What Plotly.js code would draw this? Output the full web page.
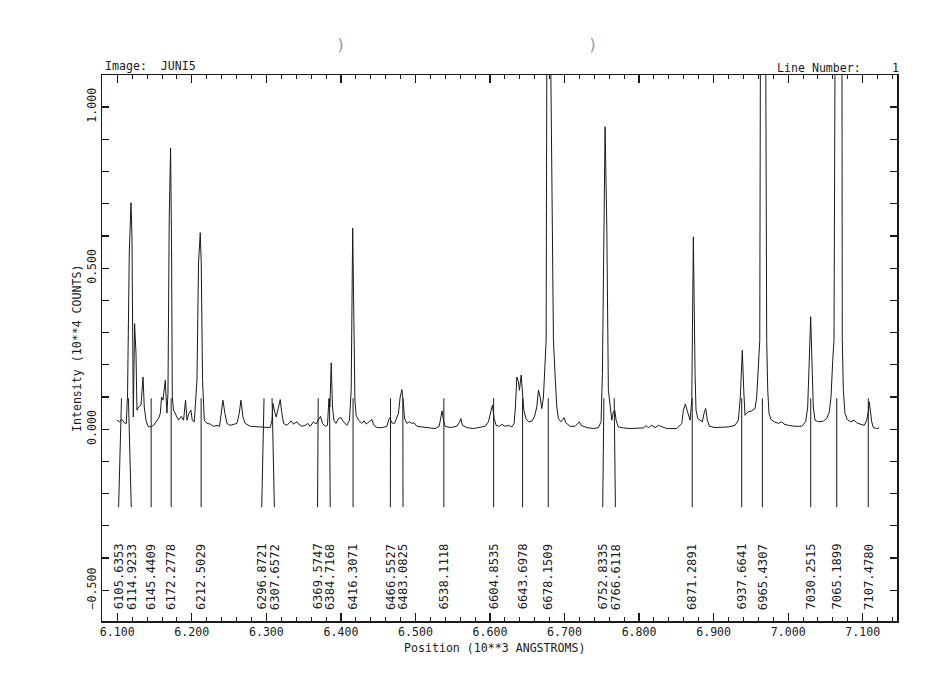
<!DOCTYPE html>
<html>
<head>
<meta charset="utf-8">
<script src="https://cdn.plot.ly/plotly-3.0.1.min.js"></script>
<style>html,body{margin:0;padding:0;background:#fff;}#chart{width:932px;height:693px;}</style>
</head>
<body>
<div id="chart"></div>
<script>
// Spectrum: wavelength (Angstrom) and intensity (10**4 counts)
const wavelength = [6099.6,6103.1,6106.3,6109.4,6112.1,6113.8,6116.1,6118.4,6119.7,6120.5,6121.5,6123.2,6125.1,6126.4,6128.6,6131.8,6134.5,6136.2,6138.5,6141.2,6144.3,6148.7,6153.2,6155.9,6157.7,6159.4,6161.3,6164.4,6166.6,6168.0,6169.7,6171.5,6172.8,6173.8,6175.5,6179.1,6182.2,6185.8,6188.9,6191.6,6193.5,6196.1,6198.8,6200.6,6203.3,6206.9,6209.0,6211.3,6212.6,6214.4,6216.7,6220.3,6224.7,6229.1,6233.7,6237.2,6239.5,6241.7,6244.4,6247.1,6251.5,6256.0,6260.5,6263.6,6265.9,6268.6,6271.6,6278.4,6287.3,6296.2,6305.2,6307.5,6308.8,6311.2,6313.2,6315.9,6318.6,6320.6,6323.0,6327.6,6333.3,6336.4,6341.0,6343.1,6347.7,6352.1,6355.7,6358.8,6363.2,6366.5,6369.9,6372.6,6375.3,6378.9,6382.0,6383.9,6385.2,6387.0,6388.7,6390.6,6393.3,6396.8,6400.0,6403.5,6408.0,6411.5,6413.8,6415.8,6418.8,6420.5,6423.6,6428.1,6431.2,6433.9,6437.9,6441.6,6444.2,6448.3,6455.0,6461.7,6464.3,6466.1,6467.8,6471.9,6477.2,6479.5,6481.8,6483.5,6485.3,6488.5,6491.6,6495.2,6498.3,6501.9,6508.6,6517.5,6526.4,6531.8,6534.1,6535.8,6537.6,6539.8,6546.6,6555.5,6558.6,6560.9,6563.0,6568.9,6577.8,6586.8,6593.5,6597.9,6601.1,6603.3,6605.6,6608.2,6612.7,6615.9,6620.3,6624.7,6629.3,6632.4,6634.1,6636.0,6638.1,6639.5,6641.8,6643.5,6645.4,6648.1,6651.6,6656.1,6659.6,6662.8,6665.0,6667.2,6669.5,6671.7,6673.9,6675.3,6676.2,6678.9,6681.6,6685.1,6687.4,6689.6,6691.8,6695.0,6697.7,6699.4,6701.7,6707.5,6714.2,6717.8,6719.9,6722.2,6729.9,6738.7,6745.4,6749.0,6750.8,6754.4,6756.7,6758.8,6761.1,6763.4,6765.5,6767.4,6769.2,6772.2,6779.0,6787.9,6805.8,6809.4,6812.5,6817.0,6821.5,6825.9,6829.1,6837.1,6850.6,6857.3,6859.4,6862.1,6865.0,6868.4,6870.7,6872.8,6875.1,6876.4,6878.7,6881.8,6884.9,6887.6,6889.4,6891.6,6894.3,6901.9,6910.9,6919.8,6928.7,6933.2,6935.8,6938.5,6940.4,6942.1,6944.4,6946.6,6951.1,6955.6,6957.8,6960.0,6961.9,6962.7,6966.3,6970.0,6971.2,6972.6,6974.3,6977.0,6981.4,6986.8,6991.4,6994.4,7000.2,7009.2,7018.2,7023.5,7026.2,7028.0,7030.2,7032.4,7033.7,7036.0,7040.4,7047.1,7051.7,7055.2,7057.5,7059.8,7061.5,7062.8,7067.8,7072.2,7072.6,7074.0,7076.2,7079.3,7083.9,7088.7,7091.9,7096.4,7102.1,7105.3,7107.5,7108.8,7110.2,7112.1,7114.2,7118.8,7121.8];
const intensity = [0.028,0.023,0.030,0.020,0.018,0.112,0.547,0.703,0.597,0.090,0.038,0.328,0.236,0.059,0.069,0.075,0.162,0.069,0.028,0.009,0.007,0.012,0.028,0.036,0.049,0.100,0.090,0.152,0.050,0.112,0.659,0.873,0.566,0.100,0.059,0.043,0.028,0.040,0.028,0.090,0.028,0.049,0.059,0.028,0.023,0.152,0.516,0.610,0.516,0.152,0.028,0.018,0.016,0.009,0.012,0.009,0.049,0.090,0.049,0.018,0.012,0.016,0.018,0.049,0.090,0.038,0.018,0.009,0.007,0.007,0.005,0.028,0.080,0.053,0.038,0.065,0.092,0.053,0.018,0.012,0.026,0.016,0.023,0.016,0.009,0.012,0.018,0.009,0.023,0.016,0.028,0.040,0.018,0.009,0.012,0.095,0.069,0.206,0.069,0.028,0.018,0.033,0.036,0.023,0.012,0.028,0.121,0.624,0.090,0.043,0.028,0.018,0.026,0.016,0.023,0.030,0.012,0.005,0.005,0.009,0.030,0.036,0.020,0.018,0.049,0.100,0.123,0.090,0.033,0.018,0.023,0.018,0.020,0.009,0.007,0.004,0.002,0.009,0.033,0.057,0.028,0.009,0.005,0.009,0.020,0.033,0.012,0.005,0.002,0.005,0.009,0.023,0.049,0.075,0.033,0.012,0.009,0.015,0.009,0.012,0.007,0.018,0.069,0.162,0.147,0.121,0.168,0.111,0.059,0.033,0.023,0.025,0.038,0.069,0.121,0.100,0.064,0.100,0.214,0.276,1.120,1.300,1.120,0.276,0.162,0.069,0.033,0.023,0.030,0.036,0.020,0.009,0.009,0.018,0.023,0.012,0.005,0.002,0.005,0.023,0.173,0.939,0.628,0.121,0.069,0.028,0.054,0.059,0.028,0.007,0.004,0.002,0.004,0.011,0.005,0.012,0.005,0.012,0.009,0.002,0.002,0.018,0.059,0.078,0.054,0.028,0.090,0.597,0.173,0.059,0.033,0.028,0.023,0.054,0.064,0.028,0.009,0.005,0.005,0.007,0.012,0.028,0.100,0.245,0.121,0.043,0.049,0.054,0.057,0.064,0.100,0.214,0.276,1.120,1.400,1.120,0.276,0.121,0.049,0.030,0.023,0.018,0.023,0.016,0.012,0.009,0.009,0.023,0.069,0.193,0.349,0.173,0.069,0.028,0.023,0.025,0.033,0.054,0.100,0.214,0.276,1.120,1.400,1.120,0.276,0.121,0.049,0.030,0.023,0.028,0.020,0.016,0.012,0.028,0.054,0.085,0.059,0.023,0.005,0.002,0.004];

// Identified line positions (Angstrom) and their labels
const lineWaves = [6105.6353,6114.9233,6145.4409,6172.2778,6212.5029,6296.8721,6307.6572,6369.5747,6384.7168,6416.3071,6466.5527,6483.0825,6538.1118,6604.8535,6643.6978,6678.1509,6752.8335,6766.6118,6871.2891,6937.6641,6965.4307,7030.2515,7065.1899,7107.4780];
const lineLabels = ['6105.6353','6114.9233','6145.4409','6172.2778','6212.5029','6296.8721','6307.6572','6369.5747','6384.7168','6416.3071','6466.5527','6483.0825','6538.1118','6604.8535','6643.6978','6678.1509','6752.8335','6766.6118','6871.2891','6937.6641','6965.4307','7030.2515','7065.1899','7107.4780'];

const xTickVals = [6.1,6.2,6.3,6.4,6.5,6.6,6.7,6.8,6.9,7.0,7.1];
const yTickVals = [-0.5,0,0.5,1.0];

// ---- label de-overlap (spread labels that are too close) ----
const MIN_GAP = 17; // Angstrom
const labelPos = lineWaves.slice();
for (let iter = 0; iter < 50; iter++) {
  let moved = false;
  for (let i = 0; i < labelPos.length - 1; i++) {
    const gap = labelPos[i+1] - labelPos[i];
    if (gap < MIN_GAP - 1e-6) {
      const d = (MIN_GAP - gap) / 2;
      labelPos[i] -= d; labelPos[i+1] += d; moved = true;
    }
  }
  if (!moved) break;
}

const LINE_TOP = 0.096, LINE_BOT = -0.242, LABEL_Y = -0.458;
const lx = [], ly = [];
lineWaves.forEach((w, i) => {
  lx.push(w/1000, labelPos[i]/1000, null);
  ly.push(LINE_TOP, LINE_BOT, null);
});

const FONT = 'DejaVu Sans Mono, Liberation Mono, monospace';
const INK = '#1a1a1a';

const traces = [
  {x: wavelength.map(w => w/1000), y: intensity, type: 'scatter', mode: 'lines',
   line: {color: INK, width: 1}, hoverinfo: 'skip', showlegend: false},
  {x: lx, y: ly, type: 'scatter', mode: 'lines',
   line: {color: INK, width: 1}, hoverinfo: 'skip', showlegend: false}
];

const annotations = lineLabels.map((t, i) => ({
  x: labelPos[i]/1000, y: LABEL_Y, xref: 'x', yref: 'y', text: t,
  textangle: -90, showarrow: false, xanchor: 'center', yanchor: 'middle',
  font: {family: FONT, size: 12.2, color: INK}
}));
annotations.push(
  {x: 0.001, y: 1.0165, xref: 'paper', yref: 'paper', text: 'Image:  JUNI5', showarrow: false,
   xanchor: 'left', yanchor: 'middle', font: {family: FONT, size: 11.6, color: INK}},
  {x: 0.8465, y: 1.0128, xref: 'paper', yref: 'paper', text: 'Line Number:', showarrow: false,
   xanchor: 'left', yanchor: 'middle', font: {family: FONT, size: 11.6, color: INK}},
  {x: 0.9975, y: 1.0128, xref: 'paper', yref: 'paper', text: '1', showarrow: false,
   xanchor: 'center', yanchor: 'middle', font: {family: FONT, size: 11.6, color: INK}},
  {x: 0.494, y: -0.049, xref: 'paper', yref: 'paper', text: 'Position (10**3 ANGSTROMS)', showarrow: false,
   xanchor: 'center', yanchor: 'middle', font: {family: FONT, size: 11.6, color: INK}},
  {x: -0.0314, y: 0.5, xref: 'paper', yref: 'paper', text: 'Intensity (10**4 COUNTS)', showarrow: false,
   textangle: -90, xanchor: 'center', yanchor: 'middle', font: {family: FONT, size: 11.6, color: INK}},
  {x: 0.30, y: 1.055, xref: 'paper', yref: 'paper', text: ')', showarrow: false,
   xanchor: 'center', yanchor: 'middle', font: {family: FONT, size: 16, color: '#999'}},
  {x: 0.617, y: 1.055, xref: 'paper', yref: 'paper', text: ')', showarrow: false,
   xanchor: 'center', yanchor: 'middle', font: {family: FONT, size: 16, color: '#999'}}
);

const layout = {
  width: 932, height: 693,
  margin: {l: 102, r: 35, t: 75, b: 72, pad: 0},
  paper_bgcolor: '#fff', plot_bgcolor: '#fff',
  showlegend: false,
  font: {family: FONT, size: 11.6, color: INK},
  xaxis: {
    range: [6.0795, 7.146], tickmode: 'array', tickvals: xTickVals, tickformat: '.3f',
    ticks: 'inside', ticklen: 8, tickwidth: 1.2, tickcolor: INK,
    minor: {dtick: 0.02, tick0: 6.1, ticks: 'inside', ticklen: 4, tickwidth: 1, tickcolor: INK, showgrid: false},
    showline: true, linecolor: INK, linewidth: 1.5, mirror: 'ticks',
    showgrid: false, zeroline: false, tickfont: {family: FONT, size: 11.6, color: INK}
  },
  yaxis: {
    range: [-0.5953, 1.0994], tickmode: 'array', tickvals: yTickVals, tickformat: '.3f',
    tickangle: -90,
    ticks: 'inside', ticklen: 7, tickwidth: 1.2, tickcolor: INK,
    minor: {dtick: 0.1, tick0: 0, ticks: 'inside', ticklen: 7, tickwidth: 1.2, tickcolor: INK, showgrid: false},
    showline: true, linecolor: INK, linewidth: 1.5, mirror: 'ticks',
    showgrid: false, zeroline: false, tickfont: {family: FONT, size: 11.6, color: INK}
  },
  annotations: annotations
};

Plotly.newPlot('chart', traces, layout, {displayModeBar: false, staticPlot: true});
</script>
</body>
</html>
